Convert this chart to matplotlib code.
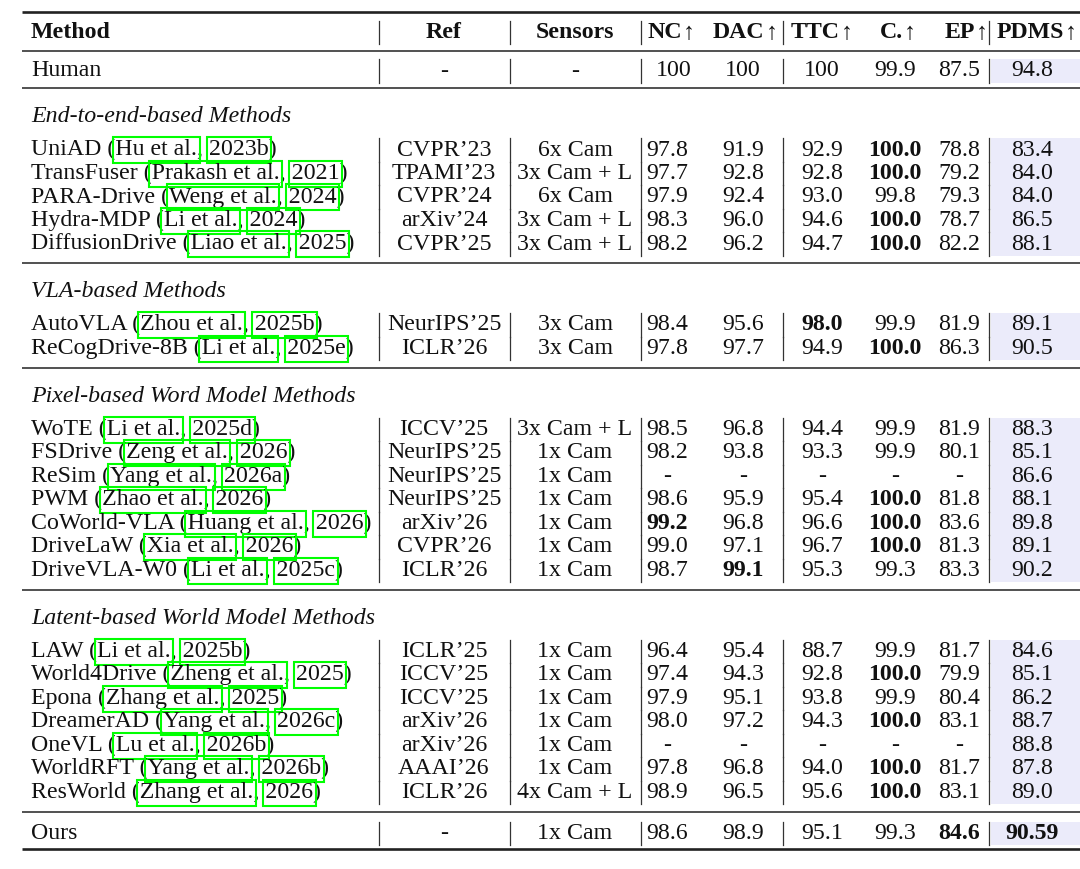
import numpy as np
import matplotlib
matplotlib.use('Agg')
import matplotlib.pyplot as plt
from matplotlib.patches import Rectangle

plt.rcParams['font.family'] = ['Liberation Serif', 'DejaVu Serif']

# table content
headers = ['Method', 'Ref', 'Sensors', 'NC', 'DAC', 'TTC', 'C.', 'EP', 'PDMS']
arrow_cols = [3, 4, 5, 6, 7, 8]

group_titles = ['End-to-end-based Methods', 'VLA-based Methods',
                'Pixel-based Word Model Methods', 'Latent-based World Model Methods']
group_sizes = [5, 2, 7, 7]

names = ['UniAD', 'TransFuser', 'PARA-Drive', 'Hydra-MDP', 'DiffusionDrive',
         'AutoVLA', 'ReCogDrive-8B',
         'WoTE', 'FSDrive', 'ReSim', 'PWM', 'CoWorld-VLA', 'DriveLaW', 'DriveVLA-W0',
         'LAW', 'World4Drive', 'Epona', 'DreamerAD', 'OneVL', 'WorldRFT', 'ResWorld']
authors = ['Hu et al.', 'Prakash et al.', 'Weng et al.', 'Li et al.', 'Liao et al.',
           'Zhou et al.', 'Li et al.',
           'Li et al.', 'Zeng et al.', 'Yang et al.', 'Zhao et al.', 'Huang et al.', 'Xia et al.', 'Li et al.',
           'Li et al.', 'Zheng et al.', 'Zhang et al.', 'Yang et al.', 'Lu et al.', 'Yang et al.', 'Zhang et al.']
years = ['2023b', '2021', '2024', '2024', '2025',
         '2025b', '2025e',
         '2025d', '2026', '2026a', '2026', '2026', '2026', '2025c',
         '2025b', '2025', '2025', '2026c', '2026b', '2026b', '2026']
refs = ['CVPR’23', 'TPAMI’23', 'CVPR’24', 'arXiv’24', 'CVPR’25',
        'NeurIPS’25', 'ICLR’26',
        'ICCV’25', 'NeurIPS’25', 'NeurIPS’25', 'NeurIPS’25', 'arXiv’26', 'CVPR’26', 'ICLR’26',
        'ICLR’25', 'ICCV’25', 'ICCV’25', 'arXiv’26', 'arXiv’26', 'AAAI’26', 'ICLR’26']
sensors = ['6x Cam', '3x Cam + L', '6x Cam', '3x Cam + L', '3x Cam + L',
           '3x Cam', '3x Cam',
           '3x Cam + L', '1x Cam', '1x Cam', '1x Cam', '1x Cam', '1x Cam', '1x Cam',
           '1x Cam', '1x Cam', '1x Cam', '1x Cam', '1x Cam', '1x Cam', '4x Cam + L']
nc = ['97.8', '97.7', '97.9', '98.3', '98.2',
      '98.4', '97.8',
      '98.5', '98.2', '-', '98.6', '99.2', '99.0', '98.7',
      '96.4', '97.4', '97.9', '98.0', '-', '97.8', '98.9']
dac = ['91.9', '92.8', '92.4', '96.0', '96.2',
       '95.6', '97.7',
       '96.8', '93.8', '-', '95.9', '96.8', '97.1', '99.1',
       '95.4', '94.3', '95.1', '97.2', '-', '96.8', '96.5']
ttc = ['92.9', '92.8', '93.0', '94.6', '94.7',
       '98.0', '94.9',
       '94.4', '93.3', '-', '95.4', '96.6', '96.7', '95.3',
       '88.7', '92.8', '93.8', '94.3', '-', '94.0', '95.6']
comf = ['100.0', '100.0', '99.8', '100.0', '100.0',
        '99.9', '100.0',
        '99.9', '99.9', '-', '100.0', '100.0', '100.0', '99.3',
        '99.9', '100.0', '99.9', '100.0', '-', '100.0', '100.0']
ep = ['78.8', '79.2', '79.3', '78.7', '82.2',
      '81.9', '86.3',
      '81.9', '80.1', '-', '81.8', '83.6', '81.3', '83.3',
      '81.7', '79.9', '80.4', '83.1', '-', '81.7', '83.1']
pdms = ['83.4', '84.0', '84.0', '86.5', '88.1',
        '89.1', '90.5',
        '88.3', '85.1', '86.6', '88.1', '89.8', '89.1', '90.2',
        '84.6', '85.1', '86.2', '88.7', '88.8', '87.8', '89.0']
# (row, column) of bold entries, columns: 0 NC, 1 DAC, 2 TTC, 3 C., 4 EP, 5 PDMS
bold_cells = [(0, 3), (1, 3), (3, 3), (4, 3), (5, 2), (6, 3), (10, 3), (11, 0), (11, 3),
              (12, 3), (13, 1), (15, 3), (17, 3), (19, 3), (20, 3)]

human_row = ['Human', '-', '-', '100', '100', '100', '99.9', '87.5', '94.8']
ours_row = ['Ours', '-', '1x Cam', '98.6', '98.9', '95.1', '99.3', '84.6', '90.59']
ours_bold = [7, 8]

# layout in pixels
W, H = 1080, 870
FS = 17.2
BASE = 6.5
PITCH = 23.5
x_left, x_text = 22, 31
head_x = [x_text, 444, 575, 671, 745, 822, 898, 966, 1037]
col_x = [x_text, 444, 575, 667, 743, 822, 895, 959, 1032]
bar_x = [379, 510, 641, 783, 989]
shade_x0 = 991
ink = '#111111'

fig = plt.figure(figsize=(W / 100, H / 100), dpi=100)
ax = fig.add_axes([0, 0, 1, 1])
ax.set_xlim(0, W)
ax.set_ylim(H, 0)
ax.axis('off')
renderer = fig.canvas.get_renderer()


def put(x, y, s, ha='center', weight='normal', style='normal'):
    return ax.text(x, y + BASE, s, ha=ha, va='baseline', fontsize=FS,
                   fontweight=weight, fontstyle=style, color=ink)


def text_w(s, weight='normal'):
    t = ax.text(0, 0, s, fontsize=FS, fontweight=weight)
    w = t.get_window_extent(renderer).width
    t.remove()
    return w


def rule(y, lw):
    ax.plot([x_left, W], [y, y], color='#222222', lw=lw, solid_capstyle='butt')


def row_frame(y, shade=True):
    for bx in bar_x:
        ax.plot([bx, bx], [y - 10, y + 13.5], color='#333333', lw=0.9)
    if shade:
        ax.add_patch(Rectangle((shade_x0, y - 10), W - shade_x0, 23.5,
                               facecolor='#ebebfa', edgecolor='none', zorder=0))


def plain_row(y, cells, bold_cols=(), nc_x=None):
    row_frame(y)
    put(col_x[0], y, cells[0], ha='left')
    for j in range(1, 9):
        x = nc_x if (j == 3 and nc_x) else col_x[j]
        put(x, y, cells[j], weight='bold' if j in bold_cols else 'normal')


# header: bold names, thin arrows
rule(13, 1.9)
arrow_w = text_w('↑')
for j, h in enumerate(headers):
    if j in arrow_cols:
        wn = text_w(h, 'bold')
        x0 = head_x[j] - (wn + arrow_w + 1) / 2
        put(x0, 32, h, ha='left', weight='bold')
        put(x0 + wn + 1, 32, '↑', ha='left')
    else:
        put(head_x[j], 32, h, ha='left' if j == 0 else 'center', weight='bold')
for bx in bar_x:
    ax.plot([bx, bx], [22, 45], color='#333333', lw=0.9)
rule(52, 1.1)

plain_row(70, human_row, nc_x=674)
rule(89, 1.1)

y = 89
k = 0
for g, n in enumerate(group_sizes):
    title_y = y + 27
    put(x_text, title_y, group_titles[g], ha='left', style='italic')
    first = title_y + 33
    for i in range(n):
        ry = first + i * PITCH
        row_frame(ry)
        label = f'{names[k]} ({authors[k]}, {years[k]})'
        put(x_text, ry, label, ha='left')
        # citation link boxes
        pre_a = f'{names[k]} ({authors[k]}'
        pre_y = f'{names[k]} ({authors[k]}, {years[k]}'
        a1 = x_text + text_w(pre_a)
        a0 = a1 - text_w(authors[k])
        y1 = x_text + text_w(pre_y)
        y0 = y1 - text_w(years[k])
        for s0, s1 in [(a0, a1), (y0, y1)]:
            ax.add_patch(Rectangle((s0 - 2.5, ry + BASE - 17.5), s1 - s0 + 5, 26,
                                   fill=False, edgecolor='#00ff00', lw=1.5, zorder=3))
        put(col_x[1], ry, refs[k])
        put(col_x[2], ry, sensors[k])
        for j, col in enumerate([nc, dac, ttc, comf, ep, pdms]):
            put(col_x[3 + j], ry, col[k],
                weight='bold' if (k, j) in bold_cells else 'normal')
        k += 1
    y = first + (n - 1) * PITCH + 21
    rule(y, 1.1)

ours_y = y + 20
plain_row(ours_y, ours_row, ours_bold)
rule(ours_y + 17.5, 1.9)

fig.savefig('out.png', dpi=100)
